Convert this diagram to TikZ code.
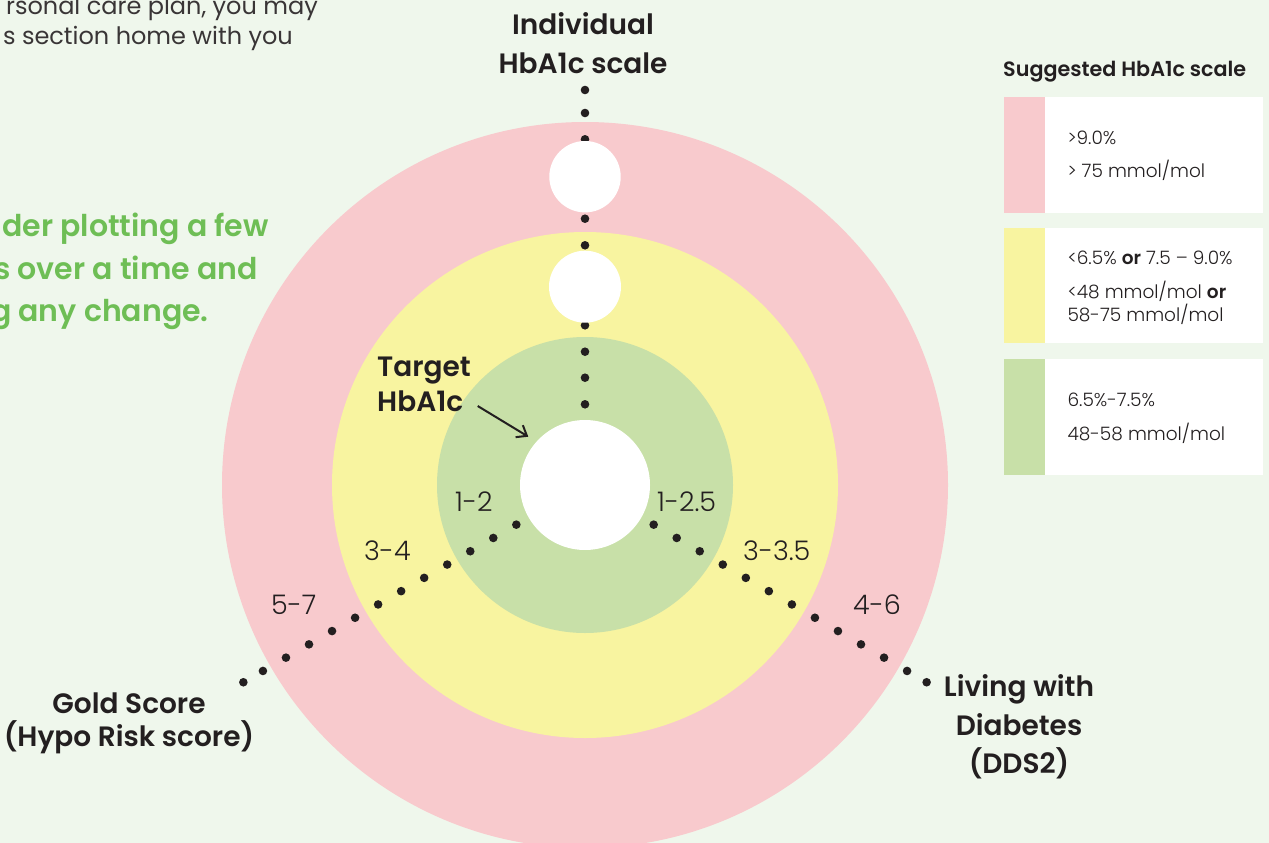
\documentclass[tikz,border=0pt]{standalone}
\usepackage{fontspec}
\setmainfont{Poppins}[UprightFont={* Light},BoldFont={* SemiBold}]
\newfontfamily\regf{Poppins}
\usetikzlibrary{arrows.meta}
\definecolor{bgc}{HTML}{EFF7EC}
\definecolor{pinkc}{HTML}{F8CACD}
\definecolor{yelc}{HTML}{F8F4A0}
\definecolor{grnc}{HTML}{C8E0A8}
\definecolor{txt}{HTML}{231F20}
\definecolor{gtxt}{HTML}{6EBE55}
\tikzset{
  bt/.style={font=\bfseries\fontsize{28}{34}\selectfont, text=txt, inner sep=0pt},
  gt/.style={font=\bfseries\fontsize{30}{34}\selectfont, text=gtxt, inner sep=0pt, anchor=base east},
  lt/.style={font=\fontsize{27}{30}\selectfont, text=txt, inner sep=0pt, anchor=base west},
  pt/.style={font=\regf\fontsize{24}{30}\selectfont, text=txt!90, inner sep=0pt, anchor=base east},
  leg/.style={font=\fontsize{18.5}{22}\selectfont, text=txt, inner sep=0pt, anchor=base west},
  dotc/.style={fill=txt},
}
\begin{document}
\begin{tikzpicture}[x=1pt,y=-1pt]
\fill[bgc] (0,0) rectangle (1269,843);
\useasboundingbox (0,0) rectangle (1269,843);
\clip (0,0) rectangle (1269,843);
% rings
\coordinate (c) at (585,485);
\fill[pinkc] (c) circle (363pt);
\fill[yelc] (c) circle (253pt);
\fill[grnc] (c) circle (148pt);
% vertical dots
\foreach \yy in {90,113,139.3,165.8,192.3,218.7,245.3,272,298.7,325.3,351.7,377.7,404.3}
  \fill[dotc] (585,\yy) circle (4.3pt);
% diagonal dots
\foreach \d in {79.3,105.9,132.5,159.1,185.7,212.3,238.9,265.5,292.1,318.7,345.3,371.9,394.5}{
  \fill[dotc] ({585-0.866*\d},{485+0.5*\d}) circle (4.3pt);
  \fill[dotc] ({585+0.866*\d},{485+0.5*\d}) circle (4.3pt);
}
% white markers
\fill[white] (585,176.7) circle (35.7pt);
\fill[white] (585,286.7) circle (36pt);
\fill[white] (c) circle (65pt);
% top left text
\node[pt] (tl1) at (318,15) {rsonal care plan, you may};
\node[pt] (tl2) at (293,45) {s section home with you};
% green text
\node[gt] (g1) at (269,236) {der plotting a few};
\node[gt] (g2) at (258,279) {s over a time and};
\node[gt] (g3) at (209,321) {g any change.};
% titles
\node[bt, anchor=base] (i1) at (583,35) {Individual};
\node[bt, anchor=base] (i2) at (583,74) {HbA1c scale};
\node[bt, anchor=base west] (t1) at (377,376.7) {Target};
\node[bt, anchor=base west] (t2) at (377,411.7) {HbA1c};
\coordinate (atip) at (528.3,436.7);
\draw[txt, line width=2pt, -{Straight Barb[length=9pt,width=14pt,line width=2pt]}] (477.7,406) -- (atip);
\node[bt, anchor=base] (gs1) at (129,713) {Gold Score};
\node[bt, anchor=base] (gs2) at (129,746.7) {(Hypo Risk score)};
\node[bt, anchor=base] (lw1) at (1019,696.7) {Living with};
\node[bt, anchor=base] (lw2) at (1019,735) {Diabetes};
\node[bt, anchor=base] (lw3) at (1019,773) {(DDS2)};
% ring labels
\node[lt] (a1) at (455,511.7) {1-2};
\node[lt] (a2) at (364,560.7) {3-4};
\node[lt] (a3) at (271,614.3) {5-7};
\node[lt] (b1) at (657,511.7) {1-2.5};
\node[lt] (b2) at (743,560) {3-3.5};
\node[lt] (b3) at (853,614.3) {4-6};
% legend
\node[bt, font=\bfseries\fontsize{20.7}{24}\selectfont, anchor=base west] (lt) at (1003,76.7) {Suggested HbA1c scale};
\fill[white] (1003.5,96.7) rectangle (1263.3,212.7);
\fill[pinkc] (1003.5,96.7) rectangle (1045,212.7);
\fill[white] (1003.5,228.3) rectangle (1263.3,343.3);
\fill[yelc] (1003.5,228.3) rectangle (1045,343.3);
\fill[white] (1003.5,359.3) rectangle (1263.3,475);
\fill[grnc] (1003.5,359.3) rectangle (1045,475);
\node[leg] (p1) at (1067.3,144.3) {>9.0\%};
\node[leg] (p2) at (1067.3,177.7) {> 75 mmol/mol};
\node[leg] (y1) at (1067.3,264.3) {<6.5\% \textbf{or} 7.5 – 9.0\%};
\node[leg] (y2) at (1067.3,298.3) {<48 mmol/mol \textbf{or}};
\node[leg] (y3) at (1067.3,321.7) {58-75 mmol/mol};
\node[leg] (q1) at (1067.3,406.7) {6.5\%-7.5\%};
\node[leg] (q2) at (1067.3,440) {48-58 mmol/mol};
\end{tikzpicture}
\end{document}
